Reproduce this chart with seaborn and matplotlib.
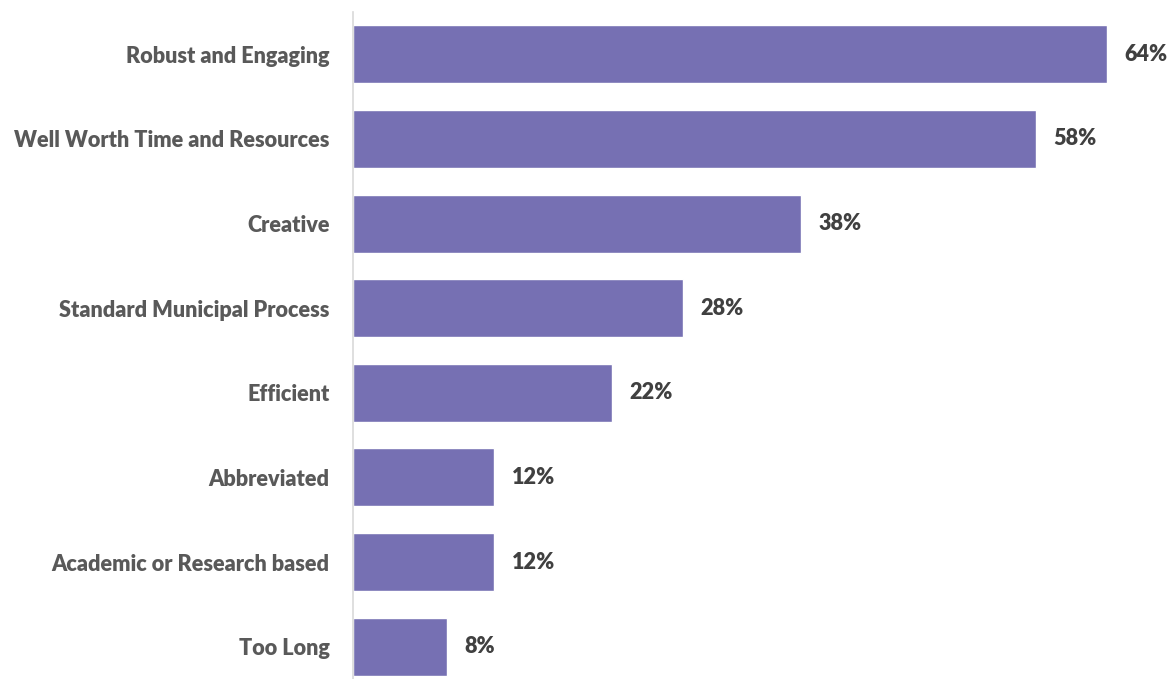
import matplotlib
matplotlib.use("Agg")
import matplotlib.pyplot as plt
import seaborn as sns
import pandas as pd

categories = [
    "Robust and Engaging",
    "Well Worth Time and Resources",
    "Creative",
    "Standard Municipal Process",
    "Efficient",
    "Abbreviated",
    "Academic or Research based",
    "Too Long",
]
percent = [64, 58, 38, 28, 22, 12, 12, 8]

df = pd.DataFrame({"category": categories, "percent": percent})

sns.set_theme(style="white")
plt.rcParams["font.family"] = ["Lato", "DejaVu Sans"]

W, H = 1172, 679
fig = plt.figure(figsize=(W / 100, H / 100), dpi=100)
left, right, top, bottom = 353, 1107, 12, 689
ax = fig.add_axes([left / W, (H - bottom) / H, (right - left) / W, (bottom - top) / H])

sns.barplot(data=df, x="percent", y="category", orient="h", color="#7670B3",
            saturation=1, width=0.686, ax=ax)

ax.set_xlim(0, 64)
ax.set_ylim(7.5, -0.5)
ax.set_xlabel("")
ax.set_ylabel("")
ax.set_xticks([])
ax.tick_params(axis="y", length=0, pad=17, labelsize=15.6, labelcolor="#595959")
for lbl in ax.get_yticklabels():
    lbl.set_fontweight("heavy")

for s in ["top", "right", "bottom"]:
    ax.spines[s].set_visible(False)
ax.spines["left"].set_color("#D9D9D9")
ax.spines["left"].set_linewidth(1.2)

for i, v in enumerate(percent):
    ax.annotate(f"{v}%", xy=(v, i), xytext=(12.5, 0), textcoords="offset points",
                ha="left", va="center", fontsize=15.6, fontweight="heavy",
                color="#404040", annotation_clip=False)

fig.savefig("out.png", dpi=100)
